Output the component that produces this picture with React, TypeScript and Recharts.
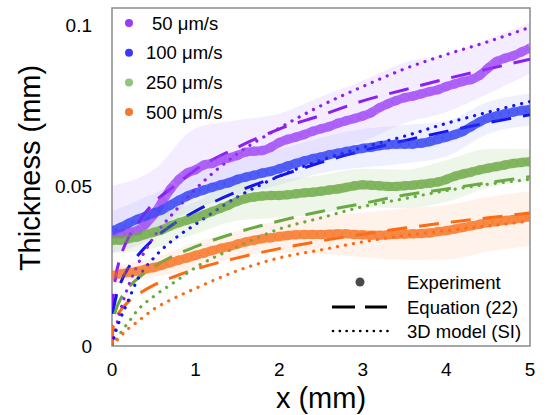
import {
  ComposedChart,
  Line,
  Area,
  XAxis,
  YAxis,
  ReferenceArea,
} from "recharts";

// experiment samples every 0.1 mm
const xs = Array.from({ length: 51 }, (_, i) => Math.round(i) / 10);

const purpleExp = [
  0.035, 0.035, 0.0355, 0.036, 0.038, 0.041, 0.045, 0.049, 0.052, 0.054,
  0.055, 0.0565, 0.057, 0.058, 0.0587, 0.0595, 0.0605, 0.0608, 0.061, 0.062,
  0.0635, 0.0645, 0.0652, 0.066, 0.067, 0.0678, 0.0685, 0.0695, 0.0703, 0.071,
  0.0718, 0.0728, 0.0744, 0.0756, 0.0766, 0.0775, 0.078, 0.0787, 0.0794, 0.080,
  0.081, 0.0818, 0.0826, 0.0832, 0.0845, 0.0868, 0.0888, 0.0898, 0.0906, 0.0918,
  0.093,
];
const blueExp = [
  0.036, 0.037, 0.0383, 0.0395, 0.0405, 0.0415, 0.0425, 0.044, 0.0455, 0.0468,
  0.0478, 0.0487, 0.0495, 0.0503, 0.051, 0.052, 0.0527, 0.0533, 0.054, 0.0545,
  0.0553, 0.0562, 0.057, 0.0578, 0.0585, 0.059, 0.0597, 0.0602, 0.0607, 0.0612,
  0.0617, 0.062, 0.0625, 0.0628, 0.063, 0.063, 0.063, 0.0633, 0.0638, 0.0645,
  0.0652, 0.066, 0.067, 0.0685, 0.070, 0.0712, 0.0718, 0.0725, 0.073, 0.0735,
  0.0738,
];
const greenExp = [
  0.033, 0.033, 0.0335, 0.034, 0.0348, 0.0355, 0.0363, 0.0375, 0.0385, 0.0393,
  0.040, 0.041, 0.042, 0.043, 0.044, 0.0452, 0.046, 0.0465, 0.0468, 0.047,
  0.047, 0.0472, 0.0475, 0.0478, 0.048, 0.0483, 0.0487, 0.049, 0.0495, 0.050,
  0.0503, 0.0502, 0.050, 0.0498, 0.0498, 0.050, 0.0502, 0.0505, 0.0508, 0.0512,
  0.052, 0.053, 0.0537, 0.0543, 0.055, 0.0555, 0.056, 0.0565, 0.057, 0.0573,
  0.0575,
];
const orangeExp = [
  0.022, 0.0225, 0.023, 0.0233, 0.024, 0.0245, 0.0252, 0.026, 0.0268, 0.0275,
  0.0283, 0.029, 0.0298, 0.0305, 0.031, 0.0318, 0.0325, 0.033, 0.0335, 0.0338,
  0.0342, 0.0345, 0.0347, 0.0348, 0.0348, 0.0348, 0.0349, 0.035, 0.035, 0.0348,
  0.0347, 0.0346, 0.0346, 0.0347, 0.0348, 0.0349, 0.035, 0.0351, 0.0353, 0.0357,
  0.036, 0.0365, 0.037, 0.0375, 0.038, 0.0385, 0.0388, 0.0392, 0.0395, 0.0399,
  0.0403,
];

// spread of the experiment, every 0.5 mm (above / below)
const purpleUp = [0.015, 0.014, 0.013, 0.011, 0.009, 0.01, 0.011, 0.011, 0.01, 0.009, 0.008];
const purpleDown = [0.006, 0.007, 0.008, 0.008, 0.008, 0.008, 0.008, 0.008, 0.008, 0.008, 0.008];
const blueUp = [0.006, 0.006, 0.006, 0.006, 0.006, 0.006, 0.006, 0.006, 0.005, 0.005, 0.005];
const blueDown = [0.005, 0.005, 0.005, 0.005, 0.005, 0.005, 0.006, 0.006, 0.006, 0.005, 0.005];
const greenUp = [0.004, 0.005, 0.005, 0.006, 0.005, 0.005, 0.005, 0.005, 0.006, 0.006, 0.004];
const greenDown = [0.004, 0.005, 0.005, 0.006, 0.007, 0.007, 0.007, 0.007, 0.007, 0.006, 0.006];
const orangeUp = [0.003, 0.003, 0.004, 0.004, 0.005, 0.006, 0.007, 0.008, 0.008, 0.008, 0.008];
const orangeDown = [0.003, 0.003, 0.004, 0.004, 0.005, 0.006, 0.007, 0.008, 0.009, 0.009, 0.009];

// model curves
const modelX = [0, 0.01, 0.05, 0.1, 0.2, 0.3, 0.5, 0.75, 1, 1.5, 2, 2.5, 3, 3.5, 4, 4.5, 5];
const purpleEq = [0, 0.0138, 0.0224, 0.0276, 0.034, 0.038, 0.0447, 0.05, 0.055, 0.062, 0.0677, 0.072, 0.0765, 0.08, 0.0834, 0.0865, 0.0895];
const blueEq = [0, 0.009, 0.0155, 0.0195, 0.0246, 0.028, 0.0334, 0.0383, 0.0421, 0.0482, 0.053, 0.0573, 0.061, 0.0641, 0.067, 0.0697, 0.0722];
const greenEq = [0, 0.0068, 0.0115, 0.0145, 0.0183, 0.0209, 0.0247, 0.0283, 0.031, 0.0355, 0.039, 0.042, 0.0445, 0.0471, 0.049, 0.051, 0.0528];
const orangeEq = [0, 0.005, 0.0087, 0.011, 0.0139, 0.0159, 0.019, 0.0217, 0.024, 0.0275, 0.0304, 0.0328, 0.0349, 0.0368, 0.0385, 0.04, 0.0415];
const purpleSI = [0, 0.0015, 0.006, 0.011, 0.019, 0.025, 0.034, 0.042, 0.049, 0.06, 0.068, 0.075, 0.081, 0.0865, 0.091, 0.095, 0.0995];
const blueSI = [0, 0.001, 0.005, 0.0085, 0.0145, 0.0205, 0.0275, 0.0335, 0.038, 0.0465, 0.053, 0.058, 0.062, 0.0655, 0.0695, 0.073, 0.0763];
const greenSI = [0, 0.0005, 0.002, 0.004, 0.0075, 0.011, 0.0155, 0.02, 0.0245, 0.031, 0.0365, 0.04, 0.0435, 0.046, 0.0485, 0.0505, 0.052];
const orangeSI = [0, 0.0003, 0.0015, 0.003, 0.0055, 0.0075, 0.0115, 0.015, 0.018, 0.0235, 0.0275, 0.03, 0.0325, 0.0345, 0.036, 0.0375, 0.039];

const speeds = ["50 μm/s", "100 μm/s", "250 μm/s", "500 μm/s"];
const xTicks = [0, 1, 2, 3, 4, 5];
const yTicks = [0, 0.05, 0.1];
const Y_MAX = 0.1055;

const series = [
  { exp: purpleExp, up: purpleUp, down: purpleDown, eq: purpleEq, si: purpleSI, line: "#8c1ef2", mark: "#a24cf6", band: "#c9a6ff", key: "#9b3cf5" },
  { exp: blueExp, up: blueUp, down: blueDown, eq: blueEq, si: blueSI, line: "#1414f0", mark: "#3a48f4", band: "#aab3ff", key: "#3a3af5" },
  { exp: greenExp, up: greenUp, down: greenDown, eq: greenEq, si: greenSI, line: "#6aaa42", mark: "#72ad4a", band: "#a9d492", key: "#92c47d" },
  { exp: orangeExp, up: orangeUp, down: orangeDown, eq: orangeEq, si: orangeSI, line: "#ff6a10", mark: "#f7782c", band: "#f9bd96", key: "#f07830" },
];

const FONT = "Arial, 'Liberation Sans', sans-serif";

export default function App() {
  const prepared = series.map((s) => ({
    ...s,
    expData: xs.map((x, i) => ({ x, y: s.exp[i] })),
    bandData: s.up.map((u, i) => ({
      x: xs[i * 5],
      range: [s.exp[i * 5] - s.down[i], s.exp[i * 5] + u],
    })),
    eqData: modelX.map((x, i) => ({ x, y: s.eq[i] })),
    siData: modelX.map((x, i) => ({ x, y: s.si[i] })),
  }));

  return (
    <div style={{ position: "fixed", left: 0, top: 0, width: 551, height: 415, background: "#fff" }}>
      <ComposedChart
        width={551}
        height={415}
        margin={{ top: 8, right: 21, bottom: 39, left: 12 }}
      >
        <XAxis
          type="number"
          dataKey="x"
          domain={[0, 5]}
          ticks={xTicks}
          tickLine={false}
          axisLine={false}
          tickSize={0}
          tickMargin={17}
          height={30}
          allowDataOverflow
          tick={{ fontSize: 19, fill: "#000", fontFamily: FONT }}
        />
        <YAxis
          type="number"
          domain={[0, Y_MAX]}
          ticks={yTicks}
          tickLine={false}
          axisLine={false}
          tickSize={0}
          tickMargin={20}
          width={100}
          allowDataOverflow
          tickFormatter={(v: number) => String(v)}
          tick={{ fontSize: 19, fill: "#000", fontFamily: FONT }}
        />
        {prepared.map((s, i) => (
          <Area
            key={"band" + i}
            data={s.bandData}
            dataKey="range"
            type="monotone"
            stroke="none"
            fill={s.band}
            fillOpacity={0.2}
            isAnimationActive={false}
          />
        ))}
        {prepared.map((s, i) => (
          <Line
            key={"exp" + i}
            data={s.expData}
            dataKey="y"
            type="monotone"
            stroke={s.mark}
            strokeWidth={9}
            strokeOpacity={0.8}
            dot={{ r: 4.5, fill: s.mark, fillOpacity: 0.35, stroke: s.mark, strokeOpacity: 0.35, strokeWidth: 1 }}
            isAnimationActive={false}
          />
        ))}
        {prepared.map((s, i) => (
          <Line
            key={"eq" + i}
            data={s.eqData}
            dataKey="y"
            type="monotone"
            stroke={s.line}
            strokeWidth={3}
            strokeDasharray="20 12"
            dot={false}
            isAnimationActive={false}
          />
        ))}
        {prepared.map((s, i) => (
          <Line
            key={"si" + i}
            data={s.siData}
            dataKey="y"
            type="monotone"
            stroke={s.line}
            strokeWidth={3.2}
            strokeLinecap="round"
            strokeDasharray="0.1 8"
            dot={false}
            isAnimationActive={false}
          />
        ))}
        <ReferenceArea
          x1={0}
          x2={5}
          y1={0}
          y2={Y_MAX}
          fill="none"
          stroke="#8a8a8a"
          strokeWidth={1.5}
          ifOverflow="visible"
        />
      </ComposedChart>

      <svg
        width={551}
        height={415}
        style={{ position: "absolute", left: 0, top: 0, pointerEvents: "none" }}
        fontFamily={FONT}
      >
        {speeds.map((label, i) => (
          <g key={label}>
            <circle cx={129} cy={23 + i * 29.7} r={4} fill={series[i].key} />
            <text x={i === 0 ? 152 : 146} y={23 + i * 29.7} fontSize={18.5} dominantBaseline="central">
              {label}
            </text>
          </g>
        ))}
        <circle cx={360} cy={282} r={4.5} fill="#4a4a4a" />
        <line x1={332} x2={387} y1={307} y2={307} stroke="#000" strokeWidth={3} strokeDasharray="23 10" />
        <line x1={333} x2={388} y1={331} y2={331} stroke="#000" strokeWidth={2.6} strokeLinecap="round" strokeDasharray="0.1 6.7" />
        <text x={407} y={282} fontSize={18.5} dominantBaseline="central">Experiment</text>
        <text x={407} y={307} fontSize={18.5} dominantBaseline="central">Equation (22)</text>
        <text x={407} y={331} fontSize={18.5} dominantBaseline="central">3D model (SI)</text>
        <text x={321} y={398} fontSize={29} textAnchor="middle" dominantBaseline="central">x (mm)</text>
        <text
          x={30}
          y={168}
          fontSize={29}
          textAnchor="middle"
          dominantBaseline="central"
          transform="rotate(-90 30 168)"
        >
          Thickness (mm)
        </text>
      </svg>
    </div>
  );
}
